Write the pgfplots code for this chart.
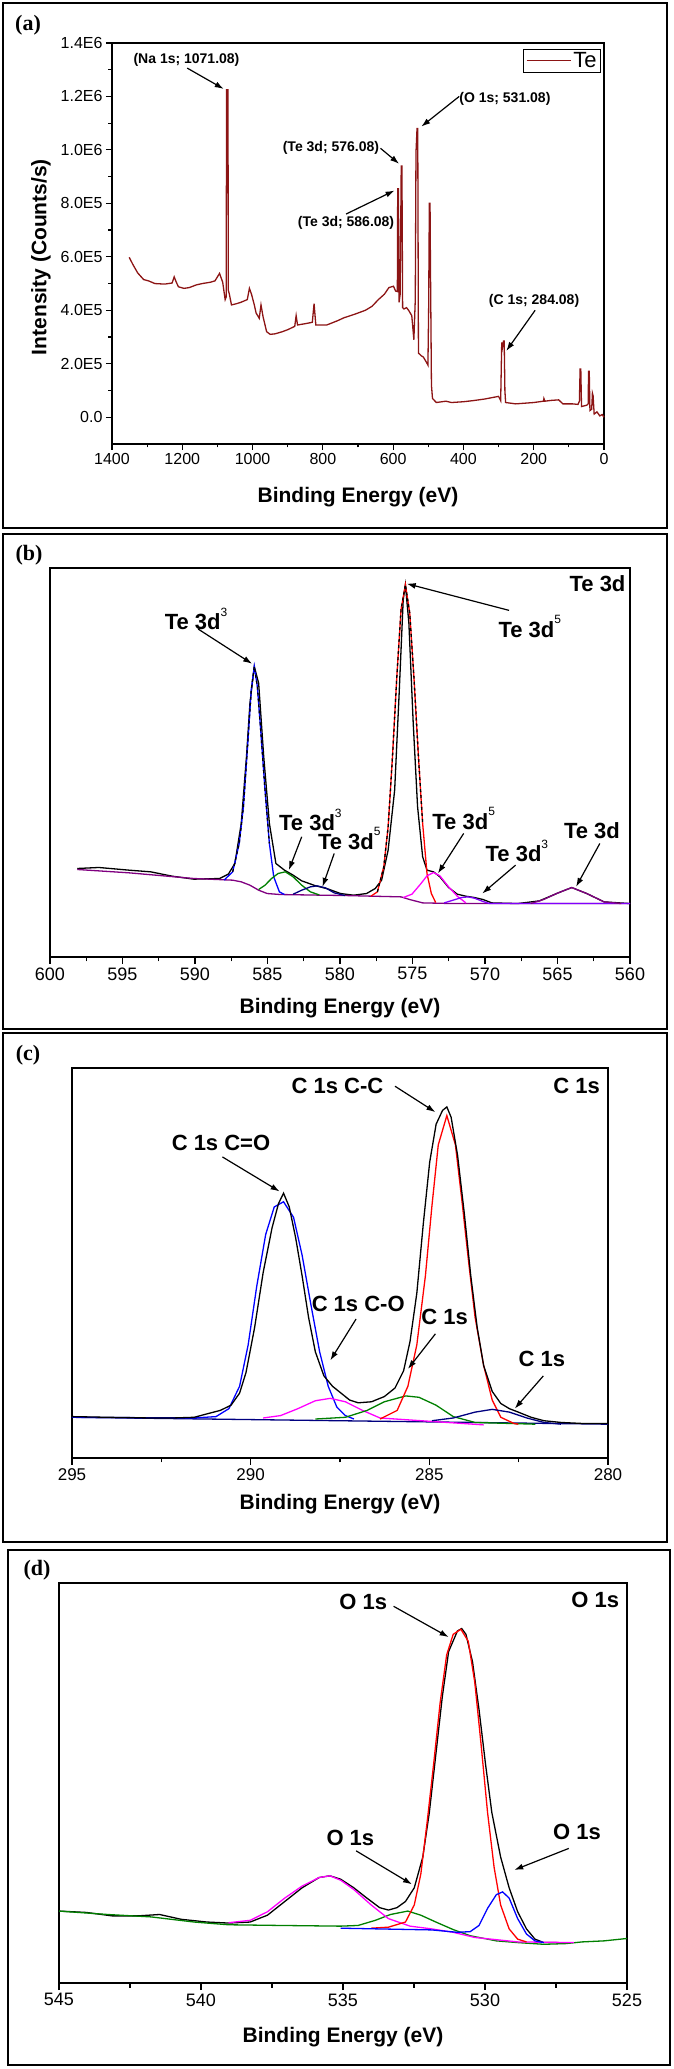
\documentclass[border=0pt]{standalone}
\usepackage{fontspec}
\setmainfont{Liberation Sans}
\newfontfamily\letterfont{Liberation Serif}
\usepackage{pgfplots}
\pgfplotsset{compat=1.18}
\usetikzlibrary{arrows.meta}

\definecolor{survey}{RGB}{140,20,20}
\definecolor{fgreen}{RGB}{0,128,0}
\definecolor{fnavy}{RGB}{0,0,128}
\definecolor{fpurple}{RGB}{128,0,128}
\definecolor{fviolet}{RGB}{128,0,255}
\definecolor{fmagenta}{RGB}{255,0,255}

\newcommand\sups[1]{\raisebox{0.62em}{\fontsize{12bp}{12bp}\selectfont\mdseries #1}}

\tikzset{
  ann/.style={-{Latex[length=9bp,width=6bp]}, line width=1.2bp, black},
  lab/.style={font=\bfseries\fontsize{22bp}{26bp}\selectfont, inner sep=0pt},
  fit/.style={line width=1.3bp},
}
\pgfplotsset{
  xps/.style={
    scale only axis, x dir=reverse, clip=false,
    axis line style={line width=1.5bp},
    tick style={black, line width=1.2bp},
    tick align=outside,
    xtick pos=left, ytick pos=left,
    major tick length=6bp, minor tick length=3.5bp,
    /pgf/number format/assume math mode=true,
    /pgf/number format/1000 sep={},
    xlabel={Binding Energy (eV)},
    label style={font=\bfseries\fontsize{21bp}{24bp}\selectfont},
    xlabel style={anchor=center},
  },
  fitpeaks/.style={xps, ytick=\empty, minor x tick num=1,
    major tick length=7bp, minor tick length=4.5bp,
    xticklabel style={font=\fontsize{18bp}{20bp}\selectfont}},
}

\begin{document}
\begin{tikzpicture}[x=1bp,y=1bp]
\path[use as bounding box] (0,0) rectangle (674,2069);
% panel frames
\draw[line width=1.8bp] (3,1541) rectangle (667,2066);
\draw[line width=1.8bp] (3,1040) rectangle (667,1535);
\draw[line width=1.8bp] (3,527) rectangle (667,1036);
\draw[line width=1.8bp] (8,4) rectangle (670,519);
\node[font=\letterfont\bfseries\fontsize{22bp}{24bp}\selectfont] at (28,2044) {(a)};
\node[font=\letterfont\bfseries\fontsize{22bp}{24bp}\selectfont] at (29,1514) {(b)};
\node[font=\letterfont\bfseries\fontsize{22bp}{24bp}\selectfont] at (28,1014) {(c)};
\node[font=\letterfont\bfseries\fontsize{22bp}{24bp}\selectfont] at (37,499) {(d)};

% ---------------- (a) survey
\begin{axis}[xps, at={(112bp,1625bp)}, anchor=south west, width=492bp, height=401bp,
  xmin=0, xmax=1400, ymin=-1e5, ymax=1.4e6,
  xtick={0,200,...,1400}, minor x tick num=1,
  ytick={0,2e5,4e5,6e5,8e5,1e6,1.2e6,1.4e6},
  yticklabels={0.0,2.0E5,4.0E5,6.0E5,8.0E5,1.0E6,1.2E6,1.4E6},
  minor y tick num=1, scaled y ticks=false,
  tick label style={font=\fontsize{16bp}{18bp}\selectfont},
  xlabel style={at={(axis description cs:0.5,-0.132)}},
  ylabel={Intensity (Counts/s)},
  ylabel style={at={(axis description cs:-0.1443,0.466)}, anchor=center},
  legend style={at={(axis description cs:0.9939,0.985)}, anchor=north east,
    draw=black, line width=1bp, font=\fontsize{22bp}{24bp}\selectfont,
    inner xsep=2bp, inner ysep=1bp},
  legend image code/.code={\draw[#1] (0bp,0bp) -- (44bp,0bp);},
]
\addplot[survey, line width=1.3bp] coordinates {
(1351,5.98e5) (1340,5.7e5) (1327,5.4e5) (1310,5.15e5) (1296,5.1e5) (1278,5.0e5)
(1250,4.98e5) (1229,5.02e5) (1223,5.25e5) (1217,5.05e5) (1211,4.88e5) (1195,4.82e5)
(1180,4.85e5) (1160,4.95e5) (1143,5.0e5) (1120,5.05e5) (1107,5.1e5) (1094,5.38e5)
(1085,5.05e5) (1078,4.4e5) (1075,4.5e5) (1074,1.225e6) (1070,1.225e6) (1069,4.75e5)
(1066,4.6e5) (1060,4.2e5) (1045,4.25e5) (1033,4.3e5) (1015,4.4e5) (1009,4.82e5)
(1003,4.6e5) (995,4.2e5) (990,3.9e5) (981,3.7e5) (976,4.2e5) (970,3.75e5)
(960,3.2e5) (950,3.1e5) (936,3.12e5) (915,3.2e5) (899,3.28e5) (880,3.4e5)
(876,3.8e5) (872,3.45e5) (850,3.5e5) (830,3.55e5) (825,4.25e5) (820,3.45e5)
(789,3.45e5) (760,3.6e5) (740,3.72e5) (710,3.85e5) (679,4.0e5) (660,4.15e5)
(642,4.4e5) (625,4.6e5) (612,4.85e5) (599,4.9e5) (593,4.72e5) (588,4.7e5)
(587,8.55e5) (585,8.55e5) (583,4.3e5) (580,4.6e5) (577,9.4e5) (575,9.4e5)
(573,4.1e5) (569,4.05e5) (562,4.1e5) (556,4.0e5) (547,3.8e5) (541,2.9e5)
(537,4.4e5) (535,9.9e5) (532,1.08e6) (530,1.08e6) (528,2.4e5) (520,2.3e5)
(514,2.25e5) (505,2.05e5) (501,1.95e5) (499,4.0e5) (497,8.0e5) (495,8.0e5)
(494,6.0e5) (491,1.2e5) (488,0.7e5) (477,0.55e5) (450,0.6e5) (434,0.55e5)
(400,0.58e5) (373,0.62e5) (340,0.68e5) (312,0.75e5) (300,0.78e5) (294,0.62e5)
(291,2.8e5) (289,2.6e5) (286,2.85e5) (284,2.85e5) (282,1.0e5) (280,0.55e5)
(251,0.5e5) (200,0.55e5) (172,0.6e5) (171,0.7e5) (168,0.6e5) (150,0.63e5)
(129,0.65e5) (117,0.5e5) (90,0.5e5) (74,0.48e5) (70,0.6e5) (68,1.8e5)
(66,1.8e5) (64,0.4e5) (49,0.45e5) (45,0.5e5) (44,1.72e5) (42,1.72e5)
(40,0.25e5) (35,0.3e5) (33,0.9e5) (31,0.8e5) (28,0.12e5) (20,0.2e5)
(12,0.05e5) (5,0.1e5) (0,0)
};
\addlegendentry{Te}
\begin{scope}[font=\bfseries\fontsize{14bp}{16bp}\selectfont]
\node at (axis cs:1188,1.335e6) {(Na 1s; 1071.08)};
\draw[ann] (axis cs:1186,1.306e6) -- (axis cs:1082,1.228e6);
\node[anchor=west, inner sep=0pt] at (axis cs:412,1.19e6) {(O 1s; 531.08)};
\draw[ann] (axis cs:412,1.2e6) -- (axis cs:520,1.087e6);
\node at (axis cs:777,1.006e6) {(Te 3d; 576.08)};
\draw[ann] (axis cs:636,1.006e6) -- (axis cs:583,0.948e6);
\node at (axis cs:734,7.28e5) {(Te 3d; 586.08)};
\draw[ann] (axis cs:734,7.6e5) -- (axis cs:596,8.48e5);
\node at (axis cs:199,4.34e5) {(C 1s; 284.08)};
\draw[ann] (axis cs:196,4.0e5) -- (axis cs:278,2.48e5);
\end{scope}
\end{axis}

% ---------------- (b) Te 3d
\begin{axis}[fitpeaks, at={(50bp,1112bp)}, anchor=south west, width=580bp, height=389bp,
  xmin=560, xmax=600, ymin=0, ymax=1165, xtick={560,565,...,600},
  xlabel style={at={(axis description cs:0.5,-0.131)}}]
\addplot[black, fit] coordinates {
(598.12,265) (596.63,268) (594.55,260) (593.06,255) (591.57,242) (590.08,233)
(588.30,235) (587.70,248) (587.25,280) (586.81,400) (586.45,600) (586.21,760)
(585.91,870) (585.61,820) (585.26,600) (584.87,400) (584.42,280) (583.83,260)
(583.23,245) (582.64,228) (581.74,214) (580.85,204) (579.96,190) (579.06,185)
(578.17,190) (577.57,205) (577.13,230) (576.68,320) (576.23,500) (575.93,780)
(575.64,1070) (575.49,1115) (575.25,1000) (574.95,700) (574.65,450) (574.30,300)
(574.00,260) (573.55,255) (573.11,240) (572.51,208) (571.91,188) (571.32,182)
(570.72,178) (570.13,172) (569.53,162) (567.74,160) (566.25,168) (565.06,190)
(564.02,208) (562.98,190) (561.79,165) (560.00,160)
};
\addplot[fpurple, fit] coordinates {
(598.12,262) (594.55,252) (590.08,235) (587.40,230) (586.81,225) (586.21,215)
(585.61,200) (585.02,190) (584.12,187) (579.66,184) (575.79,180) (575.19,172)
(574.30,162) (572.21,160) (560.00,160)
};
\addplot[blue, fit] coordinates {
(588.00,230) (587.40,255) (586.95,340) (586.66,450) (586.36,640) (586.12,800)
(585.91,870) (585.70,810) (585.47,680) (585.17,500) (584.87,340) (584.57,240)
(584.18,195) (583.83,187)
};
\addplot[fgreen, fit] coordinates {
(585.61,202) (585.17,215) (584.72,235) (584.27,250) (583.77,255) (583.23,240)
(582.64,215) (582.04,195) (581.44,186)
};
\addplot[fnavy, fit] coordinates {
(583.23,188) (582.64,200) (582.04,210) (581.59,213) (581.00,207) (580.40,192)
(579.66,184)
};
\addplot[red, fit] coordinates {
(577.87,182) (577.42,195) (576.98,270) (576.68,390) (576.38,600) (576.08,840)
(575.79,1040) (575.49,1115) (575.19,1030) (574.89,830) (574.59,600) (574.30,400)
(574.00,250) (573.70,190) (573.40,163)
};
\addplot[fmagenta, fit] coordinates {
(575.64,178) (575.04,188) (574.45,218) (574.00,243) (573.55,253) (573.11,243)
(572.51,210) (571.91,182) (571.32,162)
};
\addplot[fviolet, fit] coordinates {
(572.81,162) (572.21,170) (571.62,178) (571.17,180) (570.72,176) (570.13,166)
(569.68,160) (560.00,160)
};
\addplot[fpurple, fit] coordinates {
(566.85,160) (565.96,172) (565.06,190) (564.02,208) (562.98,190) (561.79,165)
(560.60,160)
};
\addplot[black, fit, dashed] coordinates {
(587.40,255) (586.95,340) (586.66,450) (586.36,640) (586.12,800)
(585.91,870) (585.70,810) (585.47,680) (585.17,500) (584.87,340)
};
\addplot[black, fit, dashed] coordinates {
(577.42,195) (576.98,270) (576.68,390) (576.38,600) (576.08,840)
(575.79,1040) (575.49,1115) (575.19,1030) (574.89,830) (574.59,600) (574.30,400)
};
\node[lab, anchor=east] at (axis cs:560.3,1117) {Te 3d};
\node[lab] at (axis cs:589.93,1012) {Te 3d\sups{3}};
\draw[ann] (axis cs:589.78,982) -- (axis cs:586.06,878);
\node[lab] at (axis cs:566.91,990) {Te 3d\sups{5}};
\draw[ann] (axis cs:568.34,1038) -- (axis cs:575.40,1118);
\node[lab] at (axis cs:582.04,410) {Te 3d\sups{3}};
\draw[ann] (axis cs:582.64,360) -- (axis cs:583.53,260);
\node[lab] at (axis cs:579.36,355) {Te 3d\sups{5}};
\draw[ann] (axis cs:580.40,310) -- (axis cs:581.21,210);
\node[lab] at (axis cs:571.47,415) {Te 3d\sups{5}};
\draw[ann] (axis cs:571.47,370) -- (axis cs:573.25,250);
\node[lab] at (axis cs:567.80,318) {Te 3d\sups{3}};
\draw[ann] (axis cs:567.89,275) -- (axis cs:570.19,190);
\node[lab] at (axis cs:562.62,378) {Te 3d};
\draw[ann] (axis cs:562.08,340) -- (axis cs:563.72,210);
\end{axis}

% ---------------- (c) C 1s
\begin{axis}[fitpeaks, at={(72bp,611bp)}, anchor=south west, width=536bp, height=390bp,
  xmin=280, xmax=295, ymin=0, ymax=1131, xtick={280,285,290,295},
  xticklabel style={font=\fontsize{17bp}{19bp}\selectfont},
  xlabel style={at={(axis description cs:0.5,-0.118)}}]
\addplot[fnavy, fit] coordinates {(295.00,118) (280.00,98)};
\addplot[blue, fit] coordinates {
(295.00,118) (291.58,116) (290.97,120) (290.61,143) (290.31,208) (290.07,328)
(289.83,498) (289.58,648) (289.34,728) (289.08,743) (288.80,698) (288.56,588)
(288.32,448) (288.07,308) (287.83,208) (287.59,148) (287.35,123) (287.11,113)
};
\addplot[fmagenta, fit] coordinates {
(289.65,116) (289.16,123) (288.68,143) (288.19,166) (287.77,173) (287.35,163)
(286.87,138) (286.38,116) (284.93,106) (283.48,96)
};
\addplot[fgreen, fit] coordinates {
(288.19,113) (287.35,118) (286.74,138) (286.26,163) (285.66,180) (285.29,176)
(284.81,153) (284.33,120) (283.72,103) (282.03,98)
};
\addplot[red, fit] coordinates {
(286.38,113) (285.90,138) (285.60,208) (285.35,328) (285.11,528) (284.93,728)
(284.75,908) (284.51,993) (284.27,908) (284.09,748) (283.90,568) (283.72,408)
(283.48,268) (283.24,168) (283.00,118) (282.63,100) (282.51,98)
};
\addplot[fnavy, fit] coordinates {
(284.93,108) (284.33,116) (283.72,133) (283.24,141) (282.76,133) (282.27,116)
(281.79,103) (281.31,98)
};
\addplot[black, fit] coordinates {
(295.00,120) (294.00,118) (292.79,116) (292.18,116) (291.58,118) (291.22,128)
(290.85,138) (290.55,153) (290.31,188) (290.13,248) (289.89,378) (289.65,538)
(289.40,668) (289.22,738) (289.08,768) (288.92,728) (288.74,638) (288.56,528)
(288.38,408) (288.19,308) (287.95,238) (287.71,208) (287.47,188) (287.23,168)
(286.99,160) (286.62,163) (286.26,178) (285.96,203) (285.72,253) (285.54,338)
(285.35,478) (285.17,678) (284.99,858) (284.81,968) (284.63,1008) (284.51,1018)
(284.39,988) (284.21,878) (284.02,708) (283.84,528) (283.66,378) (283.48,268)
(283.24,193) (283.00,158) (282.76,143) (282.51,133) (282.15,118) (281.79,108)
(281.31,103) (280.70,100) (280.00,100)
};
\node[lab, anchor=east] at (axis cs:280.22,1078) {C 1s};
\node[lab] at (axis cs:287.57,1080) {C 1s C-C};
\draw[ann] (axis cs:285.96,1078) -- (axis cs:284.83,1003);
\node[lab] at (axis cs:290.83,913) {C 1s C=O};
\draw[ann] (axis cs:290.79,873) -- (axis cs:289.19,773);
\node[lab] at (axis cs:286.99,446) {C 1s C-O};
\draw[ann] (axis cs:287.05,403) -- (axis cs:287.77,283);
\node[lab] at (axis cs:284.57,408) {C 1s};
\draw[ann] (axis cs:284.83,360) -- (axis cs:285.60,258);
\node[lab] at (axis cs:281.85,288) {C 1s};
\draw[ann] (axis cs:281.81,238) -- (axis cs:282.61,143);
\end{axis}

% ---------------- (d) O 1s
\begin{axis}[fitpeaks, at={(59bp,86bp)}, anchor=south west, width=568bp, height=400bp,
  xmin=525, xmax=545, ymin=0, ymax=1168, xtick={525,530,...,545},
  xlabel style={at={(axis description cs:0.5,-0.135)}}]
\addplot[black, fit] coordinates {
(545.00,210) (544.04,206) (543.13,196) (542.22,196) (541.46,200) (540.70,186)
(539.79,178) (539.03,175) (538.27,178) (537.66,198) (537.05,238) (536.44,278)
(535.84,308) (535.46,313) (535.08,303) (534.62,278) (534.16,248) (533.71,220)
(533.40,213) (533.10,220) (532.80,238) (532.49,278) (532.19,368) (531.96,498)
(531.73,668) (531.50,838) (531.28,968) (530.97,1028) (530.82,1035) (530.67,1018)
(530.44,938) (530.21,798) (529.98,638) (529.76,498) (529.45,368) (529.15,278)
(528.85,208) (528.54,158) (528.24,128) (527.93,118) (527.48,118)
};
\addplot[fgreen, fit] coordinates {
(545.00,210) (543.28,200) (541.76,193) (540.24,178) (539.03,170) (537.20,168)
(535.08,166) (534.47,168) (533.86,183) (533.33,200) (532.72,210) (532.26,198)
(531.73,178) (531.12,156) (530.52,138) (529.60,123) (528.85,118) (527.93,113)
(527.17,115) (526.57,120) (525.81,123) (525.00,130)
};
\addplot[fmagenta, fit] coordinates {
(539.03,176) (538.27,183) (537.66,208) (537.05,248) (536.44,283) (535.84,308)
(535.46,313) (535.08,300) (534.62,273) (534.01,228) (533.40,188) (532.64,166)
(531.88,158) (531.12,148) (530.36,133) (528.85,120) (526.87,118)
};
\addplot[red, fit] coordinates {
(534.01,160) (533.40,163) (532.80,178) (532.49,228) (532.26,318) (532.04,468)
(531.81,638) (531.58,818) (531.35,958) (531.12,1018) (530.85,1033) (530.59,998)
(530.36,878) (530.14,698) (529.91,498) (529.68,338) (529.45,228) (529.15,158)
(528.85,128) (528.54,120)
};
\addplot[blue, fit] coordinates {
(535.08,160) (531.88,155) (530.97,148) (530.52,150) (530.21,168) (529.91,218)
(529.60,258) (529.38,266) (529.15,248) (528.85,188) (528.54,143) (528.24,123)
(527.93,118)
};
\node[lab, anchor=east] at (axis cs:525.27,1120) {O 1s};
\node[lab] at (axis cs:534.29,1113) {O 1s};
\draw[ann] (axis cs:533.22,1100) -- (axis cs:531.28,1010);
\node[lab] at (axis cs:534.74,425) {O 1s};
\draw[ann] (axis cs:534.54,386) -- (axis cs:532.57,288);
\node[lab] at (axis cs:526.76,440) {O 1s};
\draw[ann] (axis cs:527.05,393) -- (axis cs:528.97,330);
\end{axis}
\end{tikzpicture}
\end{document}
